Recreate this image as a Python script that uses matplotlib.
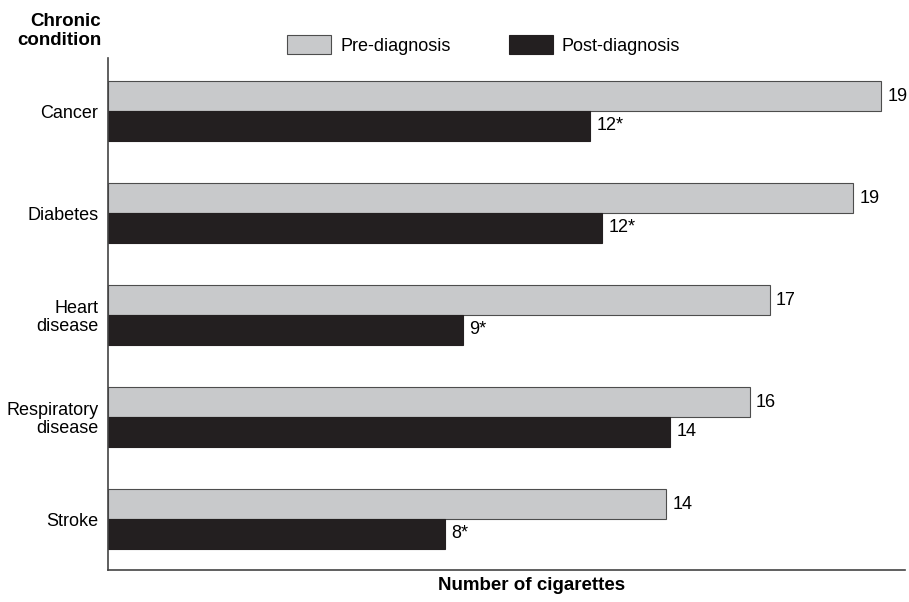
import numpy as np
import matplotlib.pyplot as plt

# cigarettes per day, before and after diagnosis
conditions = ['Cancer', 'Diabetes', 'Heart\ndisease', 'Respiratory\ndisease', 'Stroke']
pre_diag = [19.4, 18.7, 16.6, 16.1, 14.0]
post_diag = [12.1, 12.4, 8.9, 14.1, 8.45]
post_signif = [True, True, True, False, True]

plt.rcParams['font.family'] = ['Liberation Sans', 'DejaVu Sans']
fs = 13

fig = plt.figure(figsize=(9.09, 6.02), dpi=100)
ax = fig.add_axes([108 / 909, 32 / 602, 797 / 909, 512 / 602])

y = np.arange(len(conditions))[::-1]
h = 0.29
b_pre = ax.barh(y + h / 2, pre_diag, height=h, color='#c8c9cb',
                edgecolor='#4d4d4d', linewidth=0.8, label='Pre-diagnosis')
b_post = ax.barh(y - h / 2, post_diag, height=h, color='#231f20',
                 edgecolor='#231f20', linewidth=0.8, label='Post-diagnosis')

for yy, v in zip(y, pre_diag):
    ax.annotate('%d' % round(v), (v, yy + h / 2), xytext=(4.5, 0),
                textcoords='offset points', va='center', ha='left', fontsize=fs)
for yy, v, s in zip(y, post_diag, post_signif):
    txt = '%d' % round(v) + ('*' if s else '')
    ax.annotate(txt, (v, yy - h / 2), xytext=(4.5, 0),
                textcoords='offset points', va='center', ha='left', fontsize=fs)

ax.set_xlim(0, 20)
ax.set_ylim(-0.5, 4.52)
ax.set_yticks(y)
ax.set_yticklabels(conditions, fontsize=fs, linespacing=1.1)
ax.set_xticks([])
ax.tick_params(axis='y', length=0, pad=7)
for side in ['top', 'right']:
    ax.spines[side].set_visible(False)
for side in ['left', 'bottom']:
    ax.spines[side].set_color('#444444')
    ax.spines[side].set_linewidth(1.2)

fig.text(101 / 909, 1 - 31 / 602, 'Chronic\ncondition', ha='right', va='center',
         fontsize=13.5, fontweight='bold', linespacing=1.1)
fig.text(532 / 909, 1 - 586 / 602, 'Number of cigarettes', ha='center', va='center',
         fontsize=13.5, fontweight='bold')

fig.legend(handles=[b_pre, b_post], loc='center left',
           bbox_to_anchor=(280 / 909, 1 - 45 / 602), ncol=2, frameon=False,
           fontsize=fs, handlelength=2.45, handleheight=1.25, handletextpad=0.5,
           columnspacing=3.2, borderaxespad=0)

fig.savefig('out.png', dpi=100)
